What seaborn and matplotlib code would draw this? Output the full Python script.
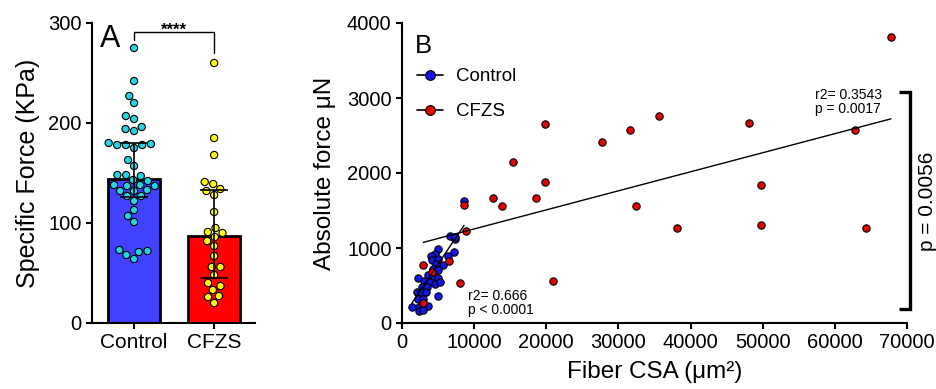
import numpy as np
import pandas as pd
import matplotlib
matplotlib.use("Agg")
import matplotlib.pyplot as plt
import matplotlib.transforms as mtrans
from matplotlib.lines import Line2D
import seaborn as sns

# ---------------- data ----------------
groups = ["Control", "CFZS"]
bar_heights = [144, 87]
err_low = [126, 45]
err_high = [180, 133]

ctrl_specific = [275, 242, 227, 220, 204, 207, 194, 192, 196, 180, 178, 178, 179, 175, 178,
                 163, 157, 148, 148, 147, 143, 142, 138, 138, 137, 137, 132, 132, 133, 127,
                 127, 122, 113, 107, 101, 71, 73, 64, 68, 72]
cfzs_specific = [260, 185, 168, 139, 141, 134, 128, 132, 111, 95, 90, 91, 86, 82, 77, 67,
                 56, 56, 48, 37, 40, 33, 27, 26, 20]

ctrl_csa = [8599, 6658, 7351, 5039, 4577, 4022, 4207, 4947, 7166, 6334, 5733, 4669, 4346,
            5039, 2265, 4485, 5039, 3098, 3884, 4577, 5271, 2727, 3422, 2034, 2635, 3283,
            5039, 2265, 2958, 1341, 2358, 3560, 2358, 2958, 3653, 7310]
ctrl_abs = [1631, 1154, 1119, 985, 918, 900, 842, 856, 945, 887, 767, 789, 722, 709, 597,
            619, 606, 562, 544, 517, 544, 486, 486, 419, 419, 410, 365, 321, 321, 218, 218,
            231, 160, 174, 642, 1146]
cfzs_csa = [67780, 62830, 48030, 49790, 35690, 31620, 27790, 19830, 19830, 18585, 15350,
            13910, 12580, 32410, 38180, 49790, 64260, 20990, 8553, 8918, 8000, 6560, 4115,
            2958, 2958]
cfzs_abs = [3814, 2571, 2670, 1841, 2763, 2576, 2416, 2651, 1881, 1671, 2152, 1555, 1662,
            1564, 1266, 1301, 1261, 566, 1568, 1226, 530, 829, 686, 775, 263]

ctrl_fit_slope, ctrl_fit_intercept = 0.1434, 68
cfzs_fit_slope, cfzs_fit_intercept = 0.02541, 1000

ctrl_stats = "r2= 0.666\np < 0.0001"
cfzs_stats = "r2= 0.3543\np = 0.0017"
between_p = "p = 0.0056"
sig_label = "****"

# ---------------- style ----------------
sns.set_theme(style="ticks")
plt.rcParams["font.family"] = ["Liberation Sans", "DejaVu Sans"]
plt.rcParams["axes.linewidth"] = 1.5
plt.rcParams["xtick.major.width"] = 1.5
plt.rcParams["ytick.major.width"] = 1.5
plt.rcParams["xtick.major.size"] = 4
plt.rcParams["ytick.major.size"] = 4
for k in ["xtick.color", "ytick.color", "axes.edgecolor", "text.color",
          "axes.labelcolor", "xtick.labelcolor", "ytick.labelcolor"]:
    plt.rcParams[k] = "black"

bar_colors = ["#4141FF", "#FF0000"]
dot_colors = ["#22D5E2", "#FFFF00"]
b_colors = ["#1414E6", "#E60000"]

fig = plt.figure(figsize=(9.36, 3.89), dpi=100)
axA = fig.add_axes([92 / 936, 66 / 389, 163 / 936, 300 / 389])
axB = fig.add_axes([402 / 936, 66 / 389, 505 / 936, 300 / 389])

# ---------------- panel A ----------------
df_bar = pd.DataFrame({"group": groups, "force": bar_heights})
sns.barplot(data=df_bar, x="group", y="force", hue="group", order=groups,
            hue_order=groups, palette=bar_colors, saturation=1, width=0.65,
            edgecolor="black", linewidth=2, legend=False, ax=axA, errorbar=None)

df_pts = pd.DataFrame({
    "group": ["Control"] * len(ctrl_specific) + ["CFZS"] * len(cfzs_specific),
    "force": ctrl_specific + cfzs_specific,
})
sns.swarmplot(data=df_pts, x="group", y="force", hue="group", order=groups,
              hue_order=groups, palette=dot_colors, size=5.2, edgecolor="black",
              linewidth=0.8, legend=False, ax=axA, zorder=3)

mid = np.array(bar_heights)
yerr = [mid - np.array(err_low), np.array(err_high) - mid]
axA.errorbar(x=[0, 1], y=mid, yerr=yerr, fmt="none", ecolor="black",
             elinewidth=1.2, capsize=10, capthick=1.2, zorder=6)

axA.plot([0, 0, 1, 1], [283, 291, 291, 270], color="black", lw=1, clip_on=False)
axA.text(0.5, 288, sig_label, ha="center", va="baseline", fontsize=12,
         fontweight="bold", clip_on=False)

axA.set_xlim(-0.525, 1.51)
axA.set_ylim(0, 300)
axA.set_yticks([0, 100, 200, 300])
axA.set_xlabel("")
axA.set_ylabel("Specific Force (KPa)", fontsize=18, labelpad=6)
axA.tick_params(axis="y", labelsize=14.5)
axA.tick_params(axis="x", labelsize=15)
sns.despine(ax=axA)

# ---------------- panel B ----------------
df_ctrl = pd.DataFrame({"csa": ctrl_csa, "abs": ctrl_abs})
df_cfzs = pd.DataFrame({"csa": cfzs_csa, "abs": cfzs_abs})
sns.scatterplot(data=df_ctrl, x="csa", y="abs", color=b_colors[0], s=28,
                edgecolor="black", linewidth=0.8, ax=axB, zorder=3)
sns.scatterplot(data=df_cfzs, x="csa", y="abs", color=b_colors[1], s=28,
                edgecolor="black", linewidth=0.8, ax=axB, zorder=4)

xc = np.array([min(ctrl_csa), max(ctrl_csa)])
axB.plot(xc, ctrl_fit_intercept + ctrl_fit_slope * xc, color="black", lw=1, zorder=5)
xf = np.array([min(cfzs_csa), max(cfzs_csa)])
axB.plot(xf, cfzs_fit_intercept + cfzs_fit_slope * xf, color="black", lw=1, zorder=5)

axB.text(9100, 267, ctrl_stats, fontsize=10, ha="left", va="center", linespacing=1.0)
axB.text(57300, 2948, cfzs_stats, fontsize=10, ha="left", va="center", linespacing=1.0)

blend = mtrans.blended_transform_factory(axB.transAxes, axB.transData)
axB.plot([0.984, 1.006, 1.006, 0.984], [3079, 3079, 187, 187], color="black", lw=2.4,
         transform=blend, clip_on=False, solid_capstyle="butt", solid_joinstyle="miter")
axB.text(1.04, 1620, between_p, transform=blend, rotation=90, ha="center", va="center",
         fontsize=15, clip_on=False)

handles = [Line2D([], [], color="black", lw=1.2, marker="o", markersize=7,
                  markerfacecolor=c, markeredgecolor="black", markeredgewidth=0.8)
           for c in b_colors]
axB.legend(handles, groups, loc="upper left", bbox_to_anchor=(0.0, 0.9),
           frameon=False, fontsize=13.5, handlelength=1.4, handletextpad=0.7,
           labelspacing=0.95, borderaxespad=0.4)

axB.set_xlim(0, 70000)
axB.set_ylim(0, 4000)
axB.set_xticks(np.arange(0, 70001, 10000))
axB.set_yticks([0, 1000, 2000, 3000, 4000])
axB.set_xlabel("Fiber CSA (μm²)", fontsize=17.5, labelpad=6)
axB.set_ylabel("Absolute force μN", fontsize=17.5, labelpad=8)
axB.tick_params(axis="both", labelsize=14.5)
sns.despine(ax=axB)

fig.text(100 / 936, (389 - 47) / 389, "A", fontsize=22, ha="left", va="baseline")
fig.text(415 / 936, (389 - 53) / 389, "B", fontsize=18.5, ha="left", va="baseline")

fig.savefig("out.png", dpi=100)
